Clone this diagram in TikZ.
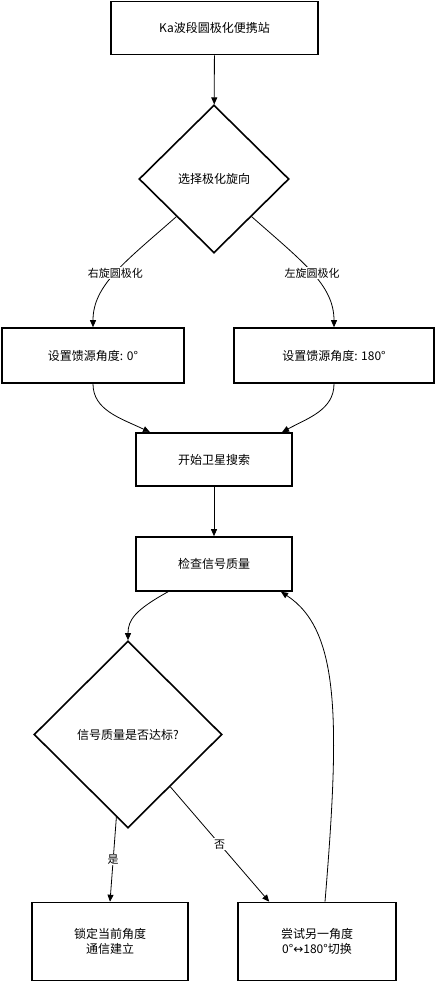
\documentclass[tikz,border=0pt]{standalone}
\usepackage{fontspec}
\setmainfont{Noto Sans CJK SC}
\newfontfamily\symfont{DejaVu Sans}
\usetikzlibrary{shapes.geometric,arrows.meta}

\begin{document}
\begin{tikzpicture}[%
    x=1pt, y=-1pt,                        % pixel-like units, top-down
    >={Triangle[length=7pt,width=6pt]},   % filled arrow heads
    every join/.style={norm},
    ]
% -------------------------------------------------
% Box styles
\tikzset{
  base/.style={draw, line width=1.6pt, align=center, inner sep=0pt,
    font=\fontsize{12pt}{15pt}\selectfont},
  proc/.style={base, rectangle},
  test/.style={base, diamond},
  % Connector line styles
  norm/.style={->, draw, line width=0.8pt},
  it/.style={fill=white, inner sep=1pt, font=\fontsize{11pt}{13pt}\selectfont}
}
\useasboundingbox (0,0) rectangle (435,982);
% -------------------------------------------------
% Start by placing the nodes
\node [proc, minimum width=207pt, minimum height=53pt] (station) at (214.5,28) {Ka波段圆极化便携站};
\node [test, minimum width=150pt, minimum height=148pt] (pol) at (214,179) {选择极化旋向};
\node [proc, minimum width=182pt, minimum height=55pt] (feed0) at (93,355.5) {设置馈源角度: 0°};
\node [proc, minimum width=200pt, minimum height=55pt] (feed180) at (334,355.5) {设置馈源角度: 180°};
\node [proc, minimum width=156pt, minimum height=53pt] (search) at (214,459.5) {开始卫星搜索};
\node [proc, minimum width=156pt, minimum height=54pt] (check) at (214,564) {检查信号质量};
\node [test, minimum width=188pt, minimum height=187pt] (ok) at (128,734.5) {信号质量是否达标?};
\node [proc, minimum width=156pt, minimum height=78pt] (lock) at (110,941.5) {锁定当前角度\\通信建立};
\node [proc, minimum width=158pt, minimum height=78pt] (retry) at (317,941.5) {尝试另一角度\\0°{\symfont ↔}180°切换};

% Connectors
\draw [norm] (station) -- (pol);
\draw [norm] (pol.225) .. controls (125,262) and (93,285) .. (feed0.north)
  node [it, midway] {右旋圆极化};
\draw [norm] (pol.-45) .. controls (303,262) and (334,285) .. (feed180.north)
  node [it, midway] {左旋圆极化};
\draw [norm] (feed0.south) .. controls (93,410) and (120,418) .. ([xshift=-64pt]search.north);
\draw [norm] (feed180.south) .. controls (334,410) and (308,418) .. ([xshift=68pt]search.north);
\draw [norm] (search) -- (check);
\draw [norm] ([xshift=-46pt]check.south) .. controls (135,610) and (128,620) .. (ok.north);
\draw [norm] (ok.262) -- node [it] {是} (lock.north);
\draw [norm] (ok.309) -- node [it] {否} ([xshift=32pt]retry.north west);
\draw [norm] ([xshift=8pt]retry.north) .. controls (340,720) and (340,630) .. ([xshift=67pt]check.south);
% -------------------------------------------------
\end{tikzpicture}
\end{document}
